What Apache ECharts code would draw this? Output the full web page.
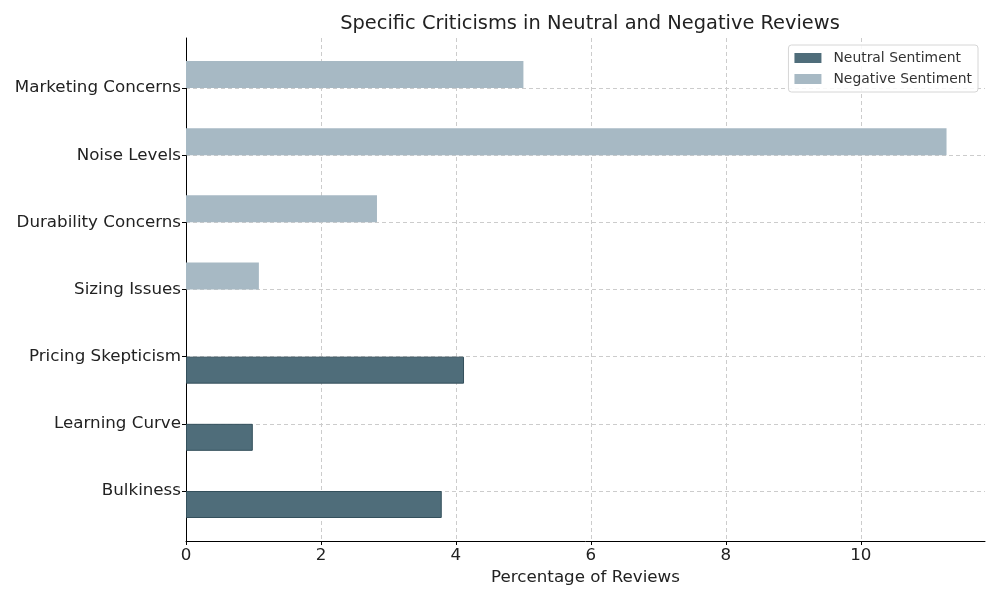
<!DOCTYPE html>
<html><head><meta charset="utf-8">
<script src="https://cdn.jsdelivr.net/npm/echarts@6/dist/echarts.min.js"></script>
<style>html,body{margin:0;padding:0;background:#fff}#c{width:1000px;height:600px}</style>
</head><body><div id="c"></div>
<script>
const categories = ['Bulkiness','Learning Curve','Pricing Skepticism','Sizing Issues','Durability Concerns','Noise Levels','Marketing Concerns'];
const neutralValues = [3.79, 0.99, 4.12, null, null, null, null];
const negativeValues = [null, null, null, 1.08, 2.83, 11.27, 5.0];
const xTicks = [0, 2, 4, 6, 8, 10];
const xMax = 11.84;
const font = 'DejaVu Sans';

const chart = echarts.init(document.getElementById('c'), null, {renderer:'canvas'});
chart.setOption({
  animation:false,
  backgroundColor:'#fff',
  title:{text:'Specific Criticisms in Neutral and Negative Reviews',left:585,top:9,textAlign:'center',
    textStyle:{fontFamily:font,fontSize:19.4,fontWeight:'normal',color:'#222'}},
  legend:{data:['Neutral Sentiment','Negative Sentiment'],orient:'vertical',right:22,top:45,
    icon:'rect',itemWidth:27,itemHeight:10,itemGap:7,padding:[6,6,6,6],
    itemStyle:{borderWidth:0},
    borderColor:'#d6d6d6',borderWidth:1,borderRadius:3,backgroundColor:'rgba(255,255,255,0.85)',
    textStyle:{fontFamily:font,fontSize:13.9,color:'#333',padding:[0,0,0,7]}},
  grid:[
    {left:186,right:15,top:38,bottom:59},
    {left:186,right:15,top:88,bottom:109}
  ],
  xAxis:[
    {type:'value',gridIndex:0,min:0,max:xMax,interval:2,
      name:'Percentage of Reviews',nameLocation:'middle',nameGap:27,
      nameTextStyle:{fontFamily:font,fontSize:16.7,color:'#222'},
      axisLine:{show:true,lineStyle:{color:'#000',width:1}},
      axisTick:{show:true,length:4,lineStyle:{color:'#000'},customValues:xTicks},
      axisLabel:{fontFamily:font,fontSize:16.7,color:'#222',margin:6,customValues:xTicks},
      splitLine:{show:true,lineStyle:{color:'#cccccc',type:[4,3],width:1}}},
    {type:'value',gridIndex:1,min:0,max:xMax,show:false,splitLine:{show:false}}
  ],
  yAxis:[
    {type:'value',gridIndex:0,min:0,max:1,
      axisLine:{show:true,onZero:false,lineStyle:{color:'#000',width:1}},
      axisTick:{show:false},axisLabel:{show:false},splitLine:{show:false}},
    {type:'category',gridIndex:1,data:categories,boundaryGap:false,
      axisLine:{show:false},
      axisTick:{show:true,length:4,lineStyle:{color:'#000'}},
      axisLabel:{fontFamily:font,fontSize:16.7,color:'#222',margin:5,padding:[2,0,0,0]},
      splitLine:{show:true,lineStyle:{color:'#cccccc',type:[4,3],width:1}}}
  ],
  series:[
    {name:'Negative Sentiment',type:'bar',xAxisIndex:1,yAxisIndex:1,data:negativeValues,
      barWidth:27,barGap:'0%',clip:false,
      itemStyle:{color:'#a7b9c4'}},
    {name:'Neutral Sentiment',type:'bar',xAxisIndex:1,yAxisIndex:1,data:neutralValues,
      barWidth:27,barGap:'0%',clip:false,
      itemStyle:{color:'#4f6d7a',borderColor:'#34505c',borderWidth:1}}
  ]
});
</script></body></html>
